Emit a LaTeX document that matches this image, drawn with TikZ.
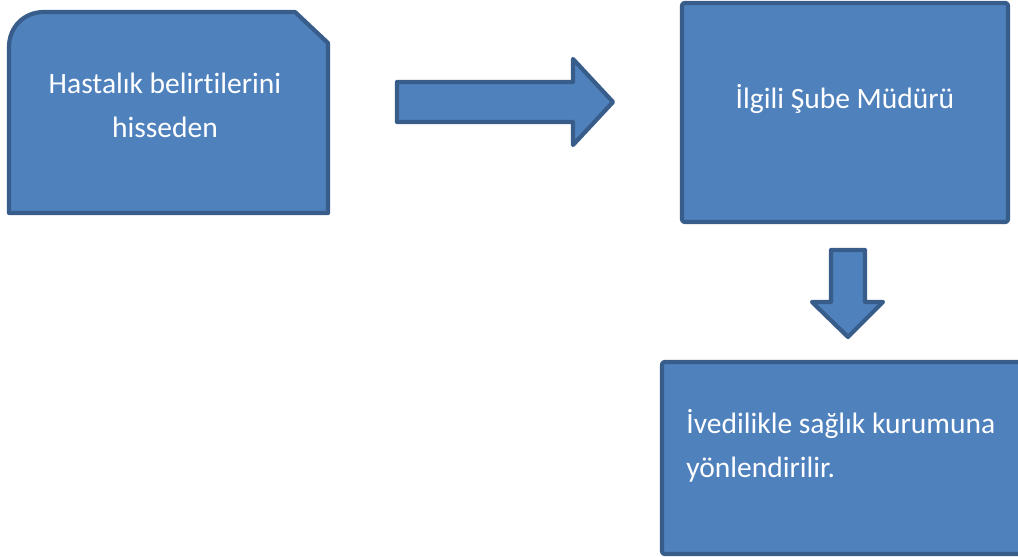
\documentclass[tikz,border=0pt]{standalone}
\usepackage{fontspec}
\setmainfont{Carlito}[Ligatures=NoCommon]
\definecolor{boxfill}{HTML}{4F81BD}
\definecolor{boxline}{HTML}{385D8A}
\begin{document}
\begin{tikzpicture}[x=0.02cm,y=-0.02cm,
  shapestyle/.style={fill=boxfill,draw=boxline,line width=2.4pt,line join=round},
  label/.style={text=white,font=\fontsize{16.8}{25}\selectfont,inner sep=0pt}]
\useasboundingbox (0,0) rectangle (1018,557);
\begin{scope}
\clip (0,0) rectangle (1018,557);
% first shape: round top-left, snipped top-right
\draw[shapestyle] (9,213) -- (9,47) .. controls (9,27) and (24,12) .. (44,12) -- (295,12) -- (328,43) -- (328,213) -- cycle;
\node[label,align=center] (a) at (165,105) {Hastalık belirtilerini\\hisseden};
% right arrow
\draw[shapestyle] (397,82) -- (573,82) -- (573,59) -- (613,102) -- (573,145) -- (573,122) -- (397,122) -- cycle;
% second box
\draw[shapestyle,rounded corners=1.5pt] (682,3) rectangle (1008,222);
\node[label] (b) at (845,99) {İlgili Şube Müdürü};
% down arrow
\draw[shapestyle] (831,250) -- (865,250) -- (865,302) -- (883,302) -- (848,337) -- (812,302) -- (831,302) -- cycle;
% third box
\draw[shapestyle,rounded corners=1.5pt] (662,362) rectangle (1030,554);
\node[label,align=left,anchor=west] (c) at (686,446) {İvedilikle sağlık kurumuna\\yönlendirilir.};
\end{scope}
\end{tikzpicture}
\end{document}
